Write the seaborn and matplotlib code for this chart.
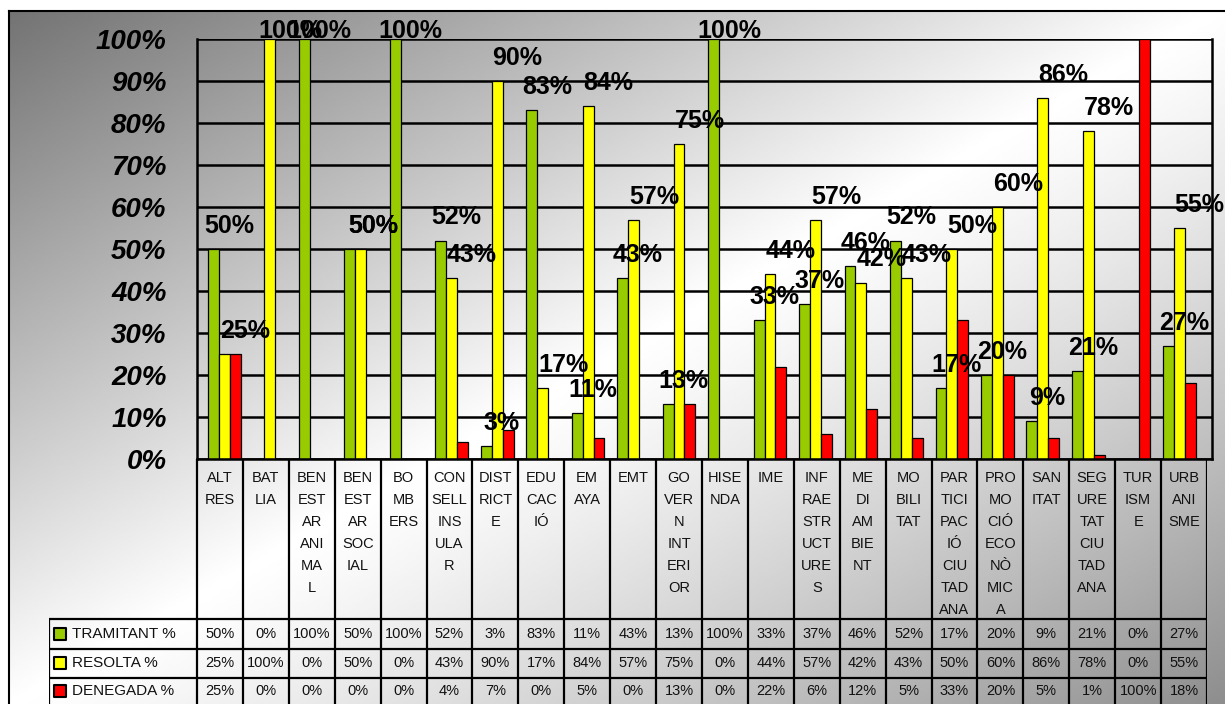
import numpy as np
import pandas as pd
import matplotlib.pyplot as plt
import seaborn as sns

# categories (as written in the table, wrapped like the original)
categories = [
    "ALTRES", "BATLIA", "BENESTAR ANIMAL", "BENESTAR SOCIAL", "BOMBERS",
    "CONSELL INSULAR", "DISTRICTE", "EDUCACIÓ", "EMAYA", "EMT",
    "GOVERN INTERIOR", "HISENDA", "IME", "INFRAESTRUCTURES", "MEDI AMBIENT",
    "MOBILITAT", "PARTICIPACIÓ CIUTADANA", "PROMOCIÓ ECONÒMICA", "SANITAT",
    "SEGURETAT CIUTADANA", "TURISME", "URBANISME",
]
cat_labels = [
    "ALT\nRES", "BAT\nLIA", "BEN\nEST\nAR\nANI\nMA\nL", "BEN\nEST\nAR\nSOC\nIAL",
    "BO\nMB\nERS", "CON\nSELL\nINS\nULA\nR", "DIST\nRICT\nE", "EDU\nCAC\nIÓ",
    "EM\nAYA", "EMT", "GO\nVER\nN\nINT\nERI\nOR", "HISE\nNDA", "IME",
    "INF\nRAE\nSTR\nUCT\nURE\nS", "ME\nDI\nAM\nBIE\nNT", "MO\nBILI\nTAT",
    "PAR\nTICI\nPAC\nIÓ\nCIU\nTAD\nANA", "PRO\nMO\nCIÓ\nECO\nNÒ\nMIC\nA",
    "SAN\nITAT", "SEG\nURE\nTAT\nCIU\nTAD\nANA", "TUR\nISM\nE", "URB\nANI\nSME",
]
tramitant = [50, 0, 100, 50, 100, 52, 3, 83, 11, 43, 13, 100, 33, 37, 46, 52, 17, 20, 9, 21, 0, 27]
resolta = [25, 100, 0, 50, 0, 43, 90, 17, 84, 57, 75, 0, 44, 57, 42, 43, 50, 60, 86, 78, 0, 55]
denegada = [25, 0, 0, 0, 0, 4, 7, 0, 5, 0, 13, 0, 22, 6, 12, 5, 33, 20, 5, 1, 100, 18]
series_names = ["TRAMITANT %", "RESOLTA %", "DENEGADA %"]
colors = ["#99CC00", "#FFFF00", "#FF0000"]

sns.set_theme(style="white")
plt.rcParams["font.family"] = ["Liberation Sans", "DejaVu Sans"]

W, H = 1225, 704
fig = plt.figure(figsize=(W / 100, H / 100), dpi=100)


def px_rect(x0, y0, x1, y1):
    return [x0 / W, 1 - y1 / H, (x1 - x0) / W, (y1 - y0) / H]


# fondo degradado con marco
bg = fig.add_axes(px_rect(9, 11, W + 5, H + 5))
xx, yy = np.meshgrid(np.linspace(9 / W, 1, 400), np.linspace(11 / H, 1, 250))
t = (xx + yy) / 2
d = 2 * t - 1
shade = np.where(d < 0, 1 - 0.56 * np.abs(d), 1 - 0.45 * d ** 1.2)
bg.imshow(shade, cmap="gray", vmin=0, vmax=1, aspect="auto", interpolation="bilinear")
bg.set_xticks([])
bg.set_yticks([])
for s in bg.spines.values():
    s.set_color("black")
    s.set_linewidth(1.5)

# grafico de barras
df = pd.DataFrame({
    "cat": categories * 3,
    "serie": np.repeat(series_names, len(categories)),
    "value": tramitant + resolta + denegada,
})

ax = fig.add_axes(px_rect(197, 39, 1212, 459))
ax.set_facecolor("none")
sns.barplot(data=df, x="cat", y="value", hue="serie", palette=colors, saturation=1,
            width=0.72, edgecolor="black", linewidth=0.9, ax=ax, legend=False)
ax.set_xlim(-0.6, len(categories) - 0.28)
ax.set_ylim(0, 100)
ax.set_yticks(range(0, 101, 10))
ax.set_yticklabels([f"{v}%" for v in range(0, 101, 10)],
                   fontsize=20, fontweight="bold", fontstyle="italic")
ax.tick_params(axis="y", length=8, width=1.2, direction="out", pad=14, colors="black")
ax.set_xticks([])
ax.set_xlabel("")
ax.set_ylabel("")
ax.yaxis.grid(True, color="black", linewidth=1.8)
ax.set_axisbelow(True)
for side in ["left", "bottom", "right"]:
    ax.spines[side].set_color("black")
    ax.spines[side].set_linewidth(1.8)
ax.spines["top"].set_visible(False)

# etiquetas de datos (tramitant y resolta)
for i in range(len(categories)):
    xg, xy = i + 0.1, i + 0.45
    if tramitant[i] == resolta[i]:
        # mismas cifras: las dos etiquetas caen en el mismo sitio
        xg = xy = i + 0.28
    if tramitant[i] > 0:
        ax.text(xg, min(tramitant[i] + 5.5, 102), f"{tramitant[i]}%", ha="center",
                va="center", fontsize=18, fontweight="bold", color="black", clip_on=False)
    if resolta[i] > 0:
        ax.text(xy, min(resolta[i] + 5.5, 102), f"{resolta[i]}%", ha="center",
                va="center", fontsize=18, fontweight="bold", color="black", clip_on=False)

# tabla de datos
n = len(categories)
col_w = (1207 - 197) / n
left_units = (197 - 49) / col_w
tb = fig.add_axes(px_rect(49, 459, 1207, 704))
tb.set_xlim(-left_units, n)
tb.set_ylim(704, 459)
tb.axis("off")

row_edges = [459, 619, 649, 678, 704]
for k in range(n + 1):
    tb.plot([k, k], [row_edges[0], row_edges[-1]], color="black", lw=1.6)
tb.plot([-left_units, -left_units], [row_edges[1], row_edges[-1]], color="black", lw=1.6)
for y in row_edges[1:4]:
    tb.plot([-left_units, n], [y, y], color="black", lw=1.6)

for i, lab in enumerate(cat_labels):
    for j, line in enumerate(lab.split("\n")):
        tb.text(i + 0.5, 478 + 22 * j, line, ha="center", va="center",
                fontsize=10.5, color="#111111")

rows = [tramitant, resolta, denegada]
for r, (name, vals, col) in enumerate(zip(series_names, rows, colors)):
    yc = (row_edges[r + 1] + row_edges[r + 2]) / 2
    tb.scatter([-left_units + 0.23], [yc], marker="s", s=70, color=col,
               edgecolor="black", linewidth=1.5, zorder=3)
    tb.text(-left_units + 0.5, yc, name, ha="left", va="center", fontsize=11,
            color="#111111")
    for i, v in enumerate(vals):
        tb.text(i + 0.5, yc, f"{v}%", ha="center", va="center", fontsize=10.5,
                color="#111111")

fig.savefig("out.png", dpi=100)
